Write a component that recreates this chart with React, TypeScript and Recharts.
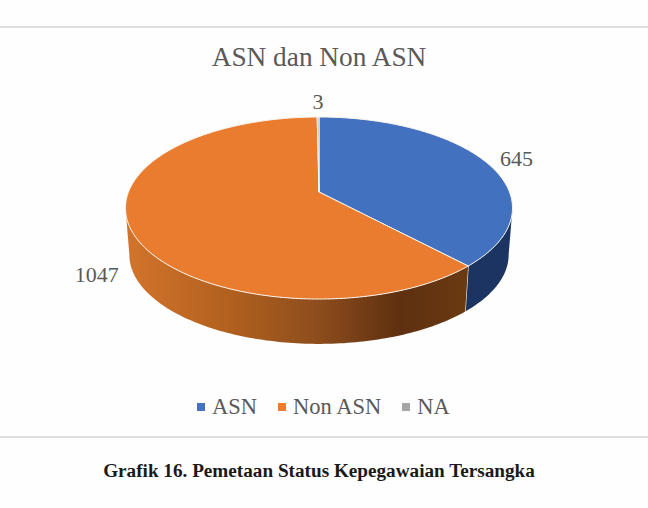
import { Legend, Pie, PieChart } from "recharts";

const categories = ["ASN", "Non ASN", "NA"];
const values = [645, 1047, 3];
const topColors = ["#4271c0", "#ea7c30", "#a5a5a5"];
const legendColors = ["#4472c4", "#ed7d31", "#a5a5a5"];
const wallFills = ["#1b3461", "url(#orangeWall)", "#5f5f5f"];

const data = categories.map((name, i) => ({ name, value: values[i] }));

const TEXT = "#595959";
const SERIF = '"Liberation Serif", serif';
const CX = 319;
const CY = 192;
const RADIUS = 190.5;

// the pie is tilted with perspective, so the near edge is bigger than the far edge
const SQUASH = 88.2 / 190.5;
const PERSPECTIVE = 0.176;
const DEPTH = 47;
const BASE_SCALE = 0.98;

// recharts angles: 90 is the top, going down means clockwise
function project(cx: number, cy: number, r: number, angle: number, scale = 1, drop = 0) {
  const rad = (angle * Math.PI) / 180;
  const u = Math.cos(rad);
  const v = -Math.sin(rad);
  const w = 1 - PERSPECTIVE * v;
  return [cx + (scale * r * u) / w, cy + drop + (scale * r * SQUASH * v) / w];
}

function arcPoints(cx: number, cy: number, r: number, from: number, to: number, scale = 1, drop = 0) {
  const steps = Math.max(2, Math.ceil(Math.abs(to - from)));
  const pts: number[][] = [];
  for (let i = 0; i <= steps; i++) {
    pts.push(project(cx, cy, r, from + ((to - from) * i) / steps, scale, drop));
  }
  return pts;
}

const toPath = (pts: number[][]) =>
  pts.map((p, i) => `${i === 0 ? "M" : "L"}${p[0].toFixed(2)},${p[1].toFixed(2)}`).join(" ");

function TopSlice(props: any) {
  const { cx, cy, outerRadius, startAngle, endAngle, fill } = props;
  const path = `M${cx},${cy} ${toPath(arcPoints(cx, cy, outerRadius, startAngle, endAngle)).replace("M", "L")} Z`;
  return <path d={path} fill={fill} stroke="#fdf6ee" strokeWidth={1} strokeLinejoin="round" />;
}

function WallSlice(props: any) {
  const { cx, cy, outerRadius, startAngle, endAngle, index } = props;
  // only the front of the rim is visible
  const from = Math.min(startAngle, -10);
  const to = Math.max(endAngle, -170);
  if (from <= to) return <g />;
  const upper = arcPoints(cx, cy, outerRadius, from, to);
  const lower = arcPoints(cx, cy, outerRadius, to, from, BASE_SCALE, DEPTH);
  const seam = arcPoints(cx, cy, outerRadius, endAngle, endAngle, 1, 0)[0];
  const seamLow = project(cx, cy, outerRadius, endAngle, BASE_SCALE, DEPTH);
  return (
    <g>
      <path d={`${toPath(upper)} ${toPath(lower).replace("M", "L")} Z`} fill={wallFills[index]} />
      {index === 0 && (
        <line x1={seam[0]} y1={seam[1]} x2={seamLow[0]} y2={seamLow[1]} stroke="#f4efe8" strokeWidth={1.2} />
      )}
    </g>
  );
}

const labelOffsets = [
  [31, -3],
  [-33, 47],
  [0, -16],
];

function SliceLabel(props: any) {
  const { cx, cy, outerRadius, midAngle, index, value } = props;
  const p = project(cx, cy, outerRadius, midAngle);
  return (
    <text
      x={p[0] + labelOffsets[index][0]}
      y={p[1] + labelOffsets[index][1]}
      textAnchor="middle"
      dominantBaseline="central"
      fontFamily={SERIF}
      fontSize={22}
      fill={TEXT}
    >
      {value}
    </text>
  );
}

function LegendRow() {
  return (
    <div style={{ display: "flex", alignItems: "center", fontFamily: SERIF, fontSize: 22.5, color: TEXT, lineHeight: "26px" }}>
      {categories.map((name, i) => (
        <span key={name} style={{ display: "flex", alignItems: "center", marginRight: 21 }}>
          <span style={{ width: 8, height: 8, background: legendColors[i], marginRight: 7 }} />
          {name}
        </span>
      ))}
    </div>
  );
}

const rule = (top: number) => (
  <div style={{ position: "absolute", left: 0, top, width: 648, height: 2, background: "#dedede" }} />
);

export default function App() {
  return (
    <div style={{ position: "absolute", left: 0, top: 0, width: 648, height: 508, background: "#fefefe", overflow: "hidden" }}>
      {rule(26)}
      {rule(436)}
      <div
        style={{ position: "absolute", left: 0, top: 42, width: 638, textAlign: "center", fontFamily: SERIF, fontSize: 27.3, lineHeight: "31px", color: TEXT }}
      >
        ASN dan Non ASN
      </div>
      <PieChart width={648} height={508} margin={{ top: 0, right: 0, bottom: 0, left: 0 }}>
        <defs>
          <linearGradient id="orangeWall" gradientUnits="userSpaceOnUse" x1={126} y1={0} x2={468} y2={0}>
            <stop offset="0%" stopColor="#d2742c" />
            <stop offset="28%" stopColor="#b4621f" />
            <stop offset="55%" stopColor="#8f4e1d" />
            <stop offset="80%" stopColor="#5f3010" />
            <stop offset="100%" stopColor="#6a3a12" />
          </linearGradient>
        </defs>
        <Pie
          data={data}
          dataKey="value"
          nameKey="name"
          cx={CX}
          cy={CY}
          outerRadius={RADIUS}
          startAngle={90}
          endAngle={-270}
          legendType="none"
          isAnimationActive={false}
          shape={WallSlice}
          stroke="none"
        />
        <Pie
          data={data.map((d, i) => ({ ...d, fill: topColors[i] }))}
          dataKey="value"
          nameKey="name"
          cx={CX}
          cy={CY}
          outerRadius={RADIUS}
          startAngle={90}
          endAngle={-270}
          isAnimationActive={false}
          shape={TopSlice}
          label={SliceLabel}
          labelLine={false}
        />
        <Legend
          content={<LegendRow />}
          wrapperStyle={{ position: "absolute", left: 197, top: 394, width: 320, height: 26, bottom: "auto" }}
        />
      </PieChart>
      <div
        style={{ position: "absolute", left: 0, top: 460, width: 638, textAlign: "center", fontFamily: SERIF, fontWeight: 700, fontSize: 19.2, lineHeight: "22px", color: "#1a1a1a" }}
      >
        Grafik 16. Pemetaan Status Kepegawaian Tersangka
      </div>
    </div>
  );
}
